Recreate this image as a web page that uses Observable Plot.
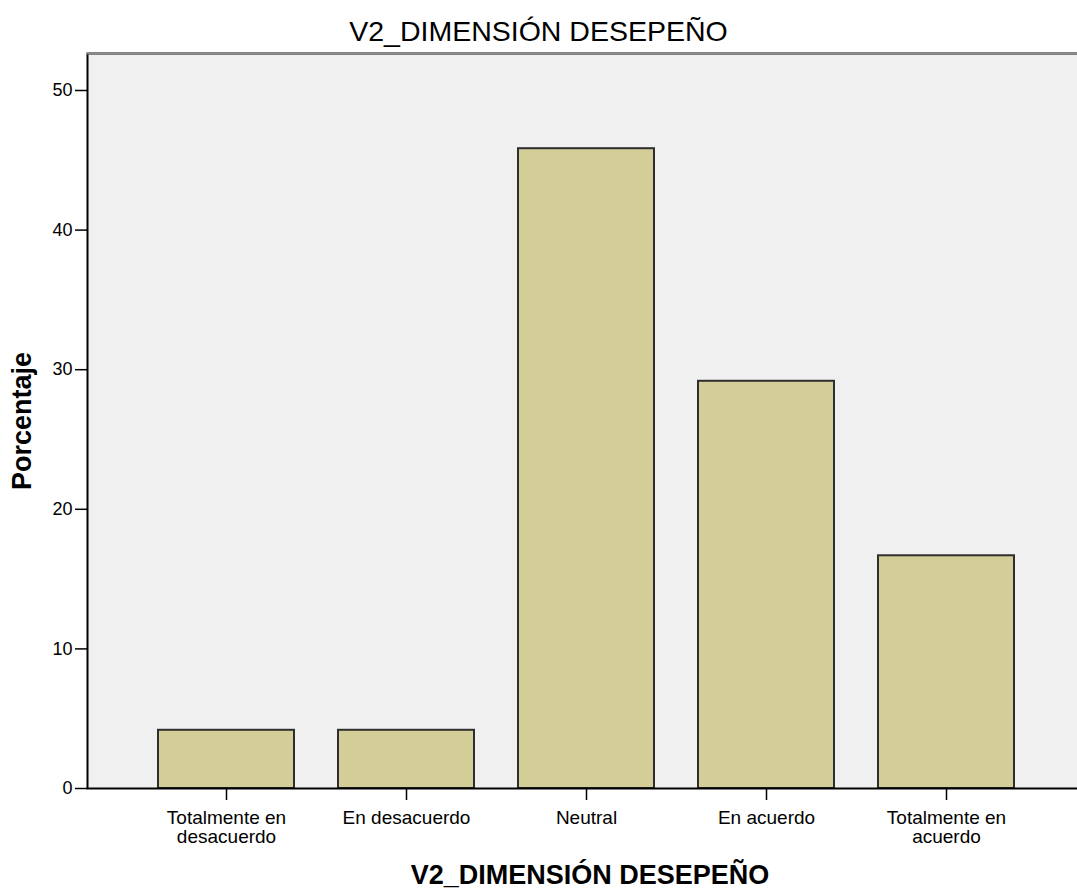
<!DOCTYPE html>
<html><head><meta charset="utf-8">
<script src="https://cdn.jsdelivr.net/npm/d3@7"></script>
<script src="https://cdn.jsdelivr.net/npm/@observablehq/plot@0.6"></script>
<style>
html,body{margin:0;padding:0;background:#fff;overflow:hidden;width:1077px;font-family:"Liberation Sans",Arial,sans-serif;}
#title{width:1077px;height:52px;box-sizing:border-box;padding-top:17px;text-align:center;font-size:28.5px;line-height:29px;color:#000;white-space:nowrap;}
#chart{width:1077px;overflow:hidden;}
#chart svg{display:block;max-width:none !important;}
</style></head><body>
<div id="title"></div>
<div id="chart"></div>
<script>
const titleText = "V2_DIMENSIÓN DESEPEÑO";
const xLabel = "V2_DIMENSIÓN DESEPEÑO";
const yLabel = "Porcentaje";
const categories = ["Totalmente en desacuerdo", "En desacuerdo", "Neutral", "En acuerdo", "Totalmente en acuerdo"];
const tickLabels = ["Totalmente en\ndesacuerdo", "En desacuerdo", "Neutral", "En acuerdo", "Totalmente en\nacuerdo"];
const percentages = [4.17, 4.17, 45.83, 29.17, 16.67];
const yTicks = [0, 10, 20, 30, 40, 50];
const yMax = 52.65;

document.getElementById("title").textContent = titleText;
const data = categories.map((c, i) => ({cat: c, value: percentages[i]}));

const chart = Plot.plot({
  width: 1090, height: 840,
  marginTop: 1, marginBottom: 104, marginLeft: 87, marginRight: 4,
  style: {fontFamily: "'Liberation Sans', Arial, sans-serif", background: "transparent", color: "#000", maxWidth: "none"},
  x: {domain: categories, paddingInner: 0.2444, paddingOuter: 0.397, align: 0.5, axis: null},
  y: {domain: [0, yMax], axis: null},
  marks: [
    Plot.frame({fill: "#f0f0f0"}),
    Plot.barY(data, {x: "cat", y: "value", fill: "#d3ce97", stroke: "#2e2e2e", strokeWidth: 2}),
    Plot.frame({stroke: "#000", strokeWidth: 2}),
    Plot.ruleY([yMax], {stroke: "#8c8c8c", strokeWidth: 2}),
    Plot.axisY({ticks: yTicks, tickSize: 12, tickPadding: 3, fontSize: 18, strokeWidth: 1.5, label: null}),
    Plot.axisX({tickSize: 12, tickPadding: 10, fontSize: 19, strokeWidth: 1.5, lineHeight: 1, tickFormat: d => tickLabels[categories.indexOf(d)], label: null}),
    Plot.text([yLabel], {frameAnchor: "left", textAnchor: "middle", rotate: -90, dx: -65, fontSize: 27, fontWeight: "bold"}),
    Plot.text([xLabel], {frameAnchor: "bottom", textAnchor: "middle", dy: 95, dx: 3, lineAnchor: "bottom", fontSize: 27, fontWeight: "bold"})
  ]
});
document.getElementById("chart").appendChild(chart);
</script>
</body></html>
